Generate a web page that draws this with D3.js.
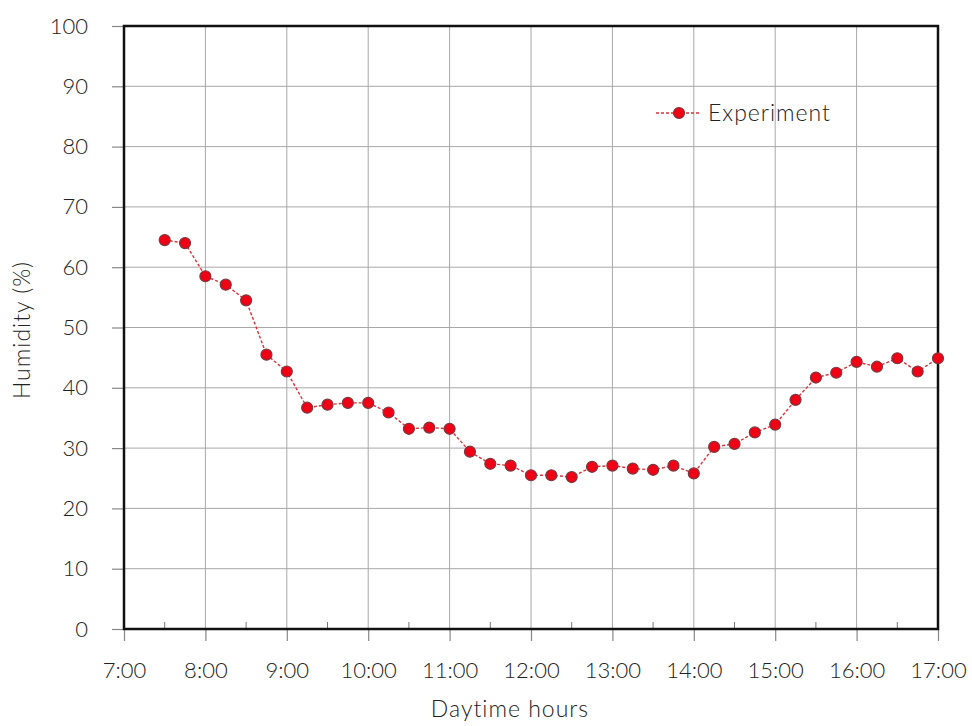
<!DOCTYPE html>
<html>
<head>
<meta charset="utf-8">
<script src="https://cdn.jsdelivr.net/npm/d3@7"></script>
<style>
  html, body { margin: 0; padding: 0; background: #fff; }
  svg { display: block; }
  text { font-family: Lato, "Open Sans", sans-serif; font-weight: 300; fill: #222; }
</style>
</head>
<body>
<svg id="chart" width="972" height="726"></svg>
<script>
// Measurement times (every 15 minutes)
const times = ["7:30","7:45","8:00","8:15","8:30","8:45","9:00","9:15","9:30","9:45",
  "10:00","10:15","10:30","10:45","11:00","11:15","11:30","11:45","12:00","12:15",
  "12:30","12:45","13:00","13:15","13:30","13:45","14:00","14:15","14:30","14:45",
  "15:00","15:15","15:30","15:45","16:00","16:15","16:30","16:45","17:00"];
// Relative humidity (%)
const humidity = [64.5, 64.0, 58.5, 57.1, 54.5, 45.5, 42.7, 36.7, 37.2, 37.5,
  37.5, 35.9, 33.2, 33.4, 33.2, 29.4, 27.4, 27.1, 25.5, 25.5,
  25.2, 26.9, 27.1, 26.6, 26.4, 27.1, 25.8, 30.2, 30.7, 32.6,
  33.9, 38.0, 41.7, 42.5, 44.3, 43.5, 44.9, 42.7, 44.9];
const xTickLabels = ["7:00","8:00","9:00","10:00","11:00","12:00","13:00","14:00","15:00","16:00","17:00"];
const yTickValues = [0,10,20,30,40,50,60,70,80,90,100];
const seriesName = "Experiment";

const toHours = s => { const [h, m] = s.split(":").map(Number); return h + m / 60; };
const data = times.map((t, i) => ({ t: toHours(t), v: humidity[i] }));

const svg = d3.select("#chart");
const margin = { left: 124, right: 34, top: 26, bottom: 97 };
const W = 972, H = 726;
const x = d3.scaleLinear().domain([7, 17]).range([margin.left, W - margin.right]);
const y = d3.scaleLinear().domain([0, 100]).range([H - margin.bottom, margin.top]);

const majorX = xTickLabels.map(toHours);
const minorX = d3.range(7.5, 17, 1);
const fontStack = "Lato, 'Open Sans', sans-serif";
const textColor = "#222";

// grid
const grid = svg.append("g").attr("stroke", "#a8a8a8").attr("stroke-width", 1);
grid.selectAll(".gx").data(majorX).join("line")
  .attr("x1", d => x(d)).attr("x2", d => x(d))
  .attr("y1", y(0)).attr("y2", y(100));
grid.selectAll(".gy").data(yTickValues).join("line")
  .attr("x1", x(7)).attr("x2", x(17))
  .attr("y1", d => y(d)).attr("y2", d => y(d));

// axes
const xAxis = d3.axisBottom(x).tickValues(majorX)
  .tickFormat((d, i) => xTickLabels[i]).tickSize(12).tickPadding(21);
const gx = svg.append("g").attr("transform", `translate(0,${y(0)})`).call(xAxis);
gx.select(".domain").remove();
gx.selectAll(".tick line").attr("stroke", "#888").attr("stroke-width", 1.2);
gx.selectAll(".tick text").attr("font-size", 22).attr("fill", textColor)
  .attr("font-family", fontStack).attr("font-weight", 300);

// minor ticks pointing inward
svg.append("g").selectAll("line").data(minorX).join("line")
  .attr("x1", d => x(d)).attr("x2", d => x(d))
  .attr("y1", y(0)).attr("y2", y(0) - 7)
  .attr("stroke", "#777").attr("stroke-width", 1);

const yAxis = d3.axisLeft(y).tickValues(yTickValues).tickSize(12).tickPadding(24);
const gy = svg.append("g").attr("transform", `translate(${x(7)},0)`).call(yAxis);
gy.select(".domain").remove();
gy.selectAll(".tick line").attr("stroke", "#888").attr("stroke-width", 1.2);
gy.selectAll(".tick text").attr("font-size", 22).attr("fill", textColor)
  .attr("font-family", fontStack).attr("font-weight", 300);

// frame
svg.append("rect")
  .attr("x", x(7)).attr("y", y(100))
  .attr("width", x(17) - x(7)).attr("height", y(0) - y(100))
  .attr("fill", "none").attr("stroke", "#111").attr("stroke-width", 2.5);

// axis titles
svg.append("text").attr("x", 510).attr("y", 717)
  .attr("text-anchor", "middle").attr("font-size", 23)
  .attr("letter-spacing", 1).text("Daytime hours");
svg.append("text")
  .attr("transform", `translate(30,330) rotate(-90)`)
  .attr("text-anchor", "middle").attr("font-size", 23)
  .attr("letter-spacing", 1).text("Humidity (%)");

// series
const line = d3.line().x(d => x(d.t)).y(d => y(d.v));
svg.append("path").datum(data).attr("d", line)
  .attr("fill", "none").attr("stroke", "#e0303a").attr("stroke-width", 1.4)
  .attr("stroke-dasharray", "3,2");
svg.append("g").selectAll("circle").data(data).join("circle")
  .attr("cx", d => x(d.t)).attr("cy", d => y(d.v)).attr("r", 5.5)
  .attr("fill", "#f00014").attr("stroke", "#7a3a40").attr("stroke-width", 1.2);

// legend
const lg = svg.append("g").attr("transform", "translate(656,113)");
lg.append("line").attr("x1", 0).attr("x2", 44).attr("y1", 0).attr("y2", 0)
  .attr("stroke", "#e0303a").attr("stroke-width", 1.4).attr("stroke-dasharray", "3,2");
lg.append("circle").attr("cx", 23).attr("cy", 0).attr("r", 5.5)
  .attr("fill", "#f00014").attr("stroke", "#7a3a40").attr("stroke-width", 1.2);
lg.append("text").attr("x", 52).attr("y", 0).attr("dy", "0.35em")
  .attr("font-size", 23).attr("letter-spacing", 1).text(seriesName);
</script>
</body>
</html>
